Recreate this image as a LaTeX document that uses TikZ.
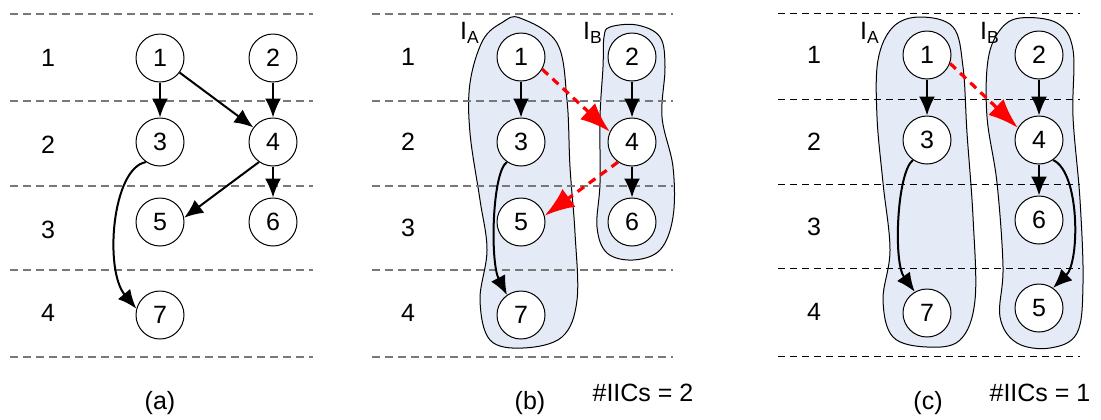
\documentclass[tikz,border=0pt]{standalone}
\usepackage{fontspec}
\setmainfont{Liberation Sans}
\usetikzlibrary{arrows.meta}
\definecolor{blobfill}{RGB}{228,235,246}
\definecolor{rowgray}{RGB}{120,120,120}

\begin{document}
\begin{tikzpicture}[x=0.5pt,y=-0.5pt,
    every node/.style={font=\fontsize{12.5}{14}\selectfont},
    task/.style={draw,circle,fill=white,line width=0.5pt,minimum size=24pt,inner sep=0pt},
    rowline/.style={rowgray,line width=1.2pt,dash pattern=on 4pt off 2.5pt},
    rowlinethin/.style={black,line width=0.5pt,dash pattern=on 3.5pt off 2.5pt},
    blob/.style={draw,fill=blobfill,line width=0.5pt},
    dep/.style={-{Latex[length=9.5pt,width=8pt]},line width=1pt},
    cross/.style={-{Latex[length=15pt,width=11pt]},red,line width=1.6pt,dash pattern=on 4pt off 3pt}]
  \useasboundingbox (0,0) rectangle (1101,419);

  % (a)
  \foreach \y in {14,101,186,270,357} \draw[rowline] (10,\y) -- (313,\y);
  \foreach \r/\y in {1/58,2/145,3/230,4/313} \node (ra\r) at (48,\y) {\r};
  \node[task] (a1) at (160,58) {1};
  \node[task] (a2) at (273,58) {2};
  \node[task] (a3) at (160,142) {3};
  \node[task] (a4) at (273,142) {4};
  \node[task] (a5) at (160,222) {5};
  \node[task] (a6) at (273,222) {6};
  \node[task] (a7) at (160,315) {7};
  \draw[dep] (a1)--(a3);
  \draw[dep] (a1)--(a4);
  \draw[dep] (a2)--(a4);
  \draw[dep] (a4)--(a6);
  \draw[dep] (a4.235)--(a5.10);
  \draw[dep] (a3.235) .. controls (112,168) and (104,270) .. (a7.165);
  \node (capa) at (160,403) {(a)};

  % (b)
  \draw[blob] plot[smooth cycle,tension=0.6] coordinates {(520,18) (557,43) (567,100) (570,167) (575,233)
    (577,300) (562,337) (523,348) (490,340) (480,300) (487,250) (480,200) (470,133) (470,83) (483,40) (503,22)};
  \draw[blob] plot[smooth cycle,tension=0.6] coordinates {(610,27) (637,25) (660,37) (665,67) (662,117)
    (673,167) (673,217) (660,250) (633,260) (607,253) (597,227) (600,183) (600,117) (603,67) (604,37)};
  \foreach \y in {14,101,186,270,357} \draw[rowline] (372,\y) -- (673,\y);
  \foreach \r/\y in {1/57,2/142,3/228,4/313} \node (rb\r) at (408,\y) {\r};
  \node (iab) at (470,33) {I\textsubscript{A}};
  \node (ibb) at (593,33) {I\textsubscript{B}};
  \node[task] (b1) at (521,57) {1};
  \node[task] (b2) at (632,57) {2};
  \node[task] (b3) at (521,142) {3};
  \node[task] (b4) at (632,142) {4};
  \node[task] (b5) at (521,222) {5};
  \node[task] (b6) at (632,222) {6};
  \node[task] (b7) at (521,315) {7};
  \draw[dep] (b1)--(b3);
  \draw[dep] (b2)--(b4);
  \draw[dep] (b4)--(b6);
  \draw[dep] (b3.235) .. controls (492,172) and (490,262) .. (b7.125);
  \draw[cross] (b1.330)--(b4.155);
  \draw[cross] (b4.235)--(b5.15);
  \node (capb) at (530,403) {(b)};
  \node (iicb) at (643,393) {\#IICs = 2};

  % (c)
  \draw[blob] plot[smooth cycle,tension=0.6] coordinates {(920,17) (953,27) (963,67) (967,133) (973,217)
    (975,300) (960,340) (927,347) (893,337) (883,300) (890,250) (883,183) (877,117) (878,60) (893,27)};
  \draw[blob] plot[smooth cycle,tension=0.6] coordinates {(1020,18) (1057,23) (1073,50) (1073,117) (1080,200)
    (1083,283) (1077,333) (1050,348) (1017,343) (1000,317) (1003,267) (997,183) (987,117) (988,60) (1000,30)};
  \foreach \y in {13,99,184,268,356} \draw[rowlinethin] (778,\y) -- (1080,\y);
  \foreach \r/\y in {1/55,2/142,3/227,4/312} \node (rc\r) at (814,\y) {\r};
  \node (iac) at (870,33) {I\textsubscript{A}};
  \node (ibc) at (990,33) {I\textsubscript{B}};
  \node[task] (c1) at (927,55) {1};
  \node[task] (c2) at (1039,55) {2};
  \node[task] (c3) at (927,140) {3};
  \node[task] (c4) at (1039,140) {4};
  \node[task] (c6) at (1039,220) {6};
  \node[task] (c7) at (927,313) {7};
  \node[task] (c5) at (1039,308) {5};
  \draw[dep] (c1)--(c3);
  \draw[dep] (c2)--(c4);
  \draw[dep] (c4)--(c6);
  \draw[dep] (c3.235) .. controls (897,172) and (893,262) .. (c7.120);
  \draw[dep] (c4.305) .. controls (1080,172) and (1080,262) .. (c5.55);
  \draw[cross] (c1.340)--(c4.150);
  \node (capc) at (928,403) {(c)};
  \node (iicc) at (1040,393) {\#IICs = 1};
\end{tikzpicture}
\end{document}
